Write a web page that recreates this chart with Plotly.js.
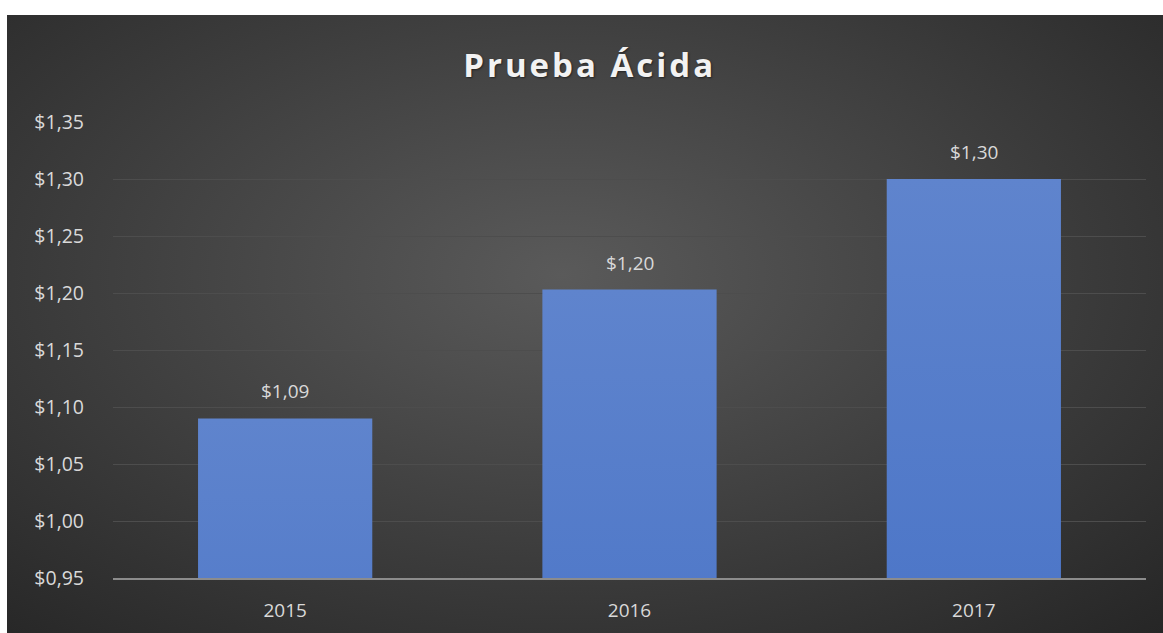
<!DOCTYPE html>
<html>
<head>
<meta charset="utf-8">
<script src="https://cdn.plot.ly/plotly-3.0.1.min.js"></script>
<style>
  html, body { margin: 0; padding: 0; background: #ffffff; }
  #bg { position: absolute; left: 7px; top: 15px; width: 1156px; height: 618px;
        background: radial-gradient(ellipse 75% 80% at 48% 42%, #5a5a5a 0%, #404040 50%, #262626 100%); }
  #chart { position: absolute; left: 0; top: 0; width: 1163px; height: 633px; }
  #chart .gtitle { letter-spacing: 3px; }
  #chart .bars .point path { fill: url(#barGrad) !important; }
</style>
</head>
<body>
<div id="bg"></div>
<div id="chart"></div>
<svg width="0" height="0" style="position:absolute">
  <defs>
    <linearGradient id="barGrad" x1="0" y1="0" x2="0" y2="1">
      <stop offset="0%" stop-color="#5f84cd"/>
      <stop offset="50%" stop-color="#3f6cc4"/>
      <stop offset="100%" stop-color="#2858b5"/>
    </linearGradient>
  </defs>
</svg>
<script>
const title = 'Prueba Ácida';
const categories = ['2015', '2016', '2017'];
const values = [1.09, 1.203, 1.30];
const labels = ['$1,09', '$1,20', '$1,30'];

const FONT = 'Open Sans, Liberation Sans, sans-serif';

const trace = {
  type: 'bar',
  x: categories,
  y: values,
  marker: { color: '#4472c4', line: { width: 0 } },
  hoverinfo: 'skip'
};

const annotations = categories.map((c, i) => ({
  x: i, y: values[i], text: labels[i], showarrow: false,
  xref: 'x', yref: 'y',
  yanchor: 'bottom', yshift: 12,
  font: { family: FONT, size: 19, color: '#d9d9d9' }
}));

const layout = {
  width: 1163, height: 633,
  paper_bgcolor: 'rgba(0,0,0,0)',
  plot_bgcolor: 'rgba(0,0,0,0)',
  margin: { l: 113, r: 17, t: 122, b: 55 },
  separators: ',.',
  bargap: 0.494,
  title: {
    text: '<b>' + title + '</b>',
    x: 0.507, xanchor: 'center', y: 0.897, yanchor: 'middle',
    font: { family: FONT, size: 33, color: '#f2f2f2',
            shadow: '1px 1px 2px rgba(0,0,0,0.5)' }
  },
  xaxis: {
    type: 'category', range: [-0.5, 2.5],
    showgrid: false, zeroline: false,
    showline: true, linecolor: '#8c8c8c', linewidth: 2,
    ticks: '', ticklabelstandoff: 14,
    tickfont: { family: FONT, size: 19, color: '#d9d9d9' }
  },
  yaxis: {
    range: [0.95, 1.35], dtick: 0.05, tick0: 0.95,
    tickprefix: '$', tickformat: '.2f',
    showgrid: true, gridcolor: '#4d4d4d', gridwidth: 1,
    zeroline: false, showline: false, ticks: '',
    ticklabelstandoff: 28,
    tickfont: { family: FONT, size: 19.5, color: '#d9d9d9' }
  },
  annotations: annotations,
  showlegend: false
};

Plotly.newPlot('chart', [trace], layout, { displayModeBar: false, staticPlot: true });
</script>
</body>
</html>
